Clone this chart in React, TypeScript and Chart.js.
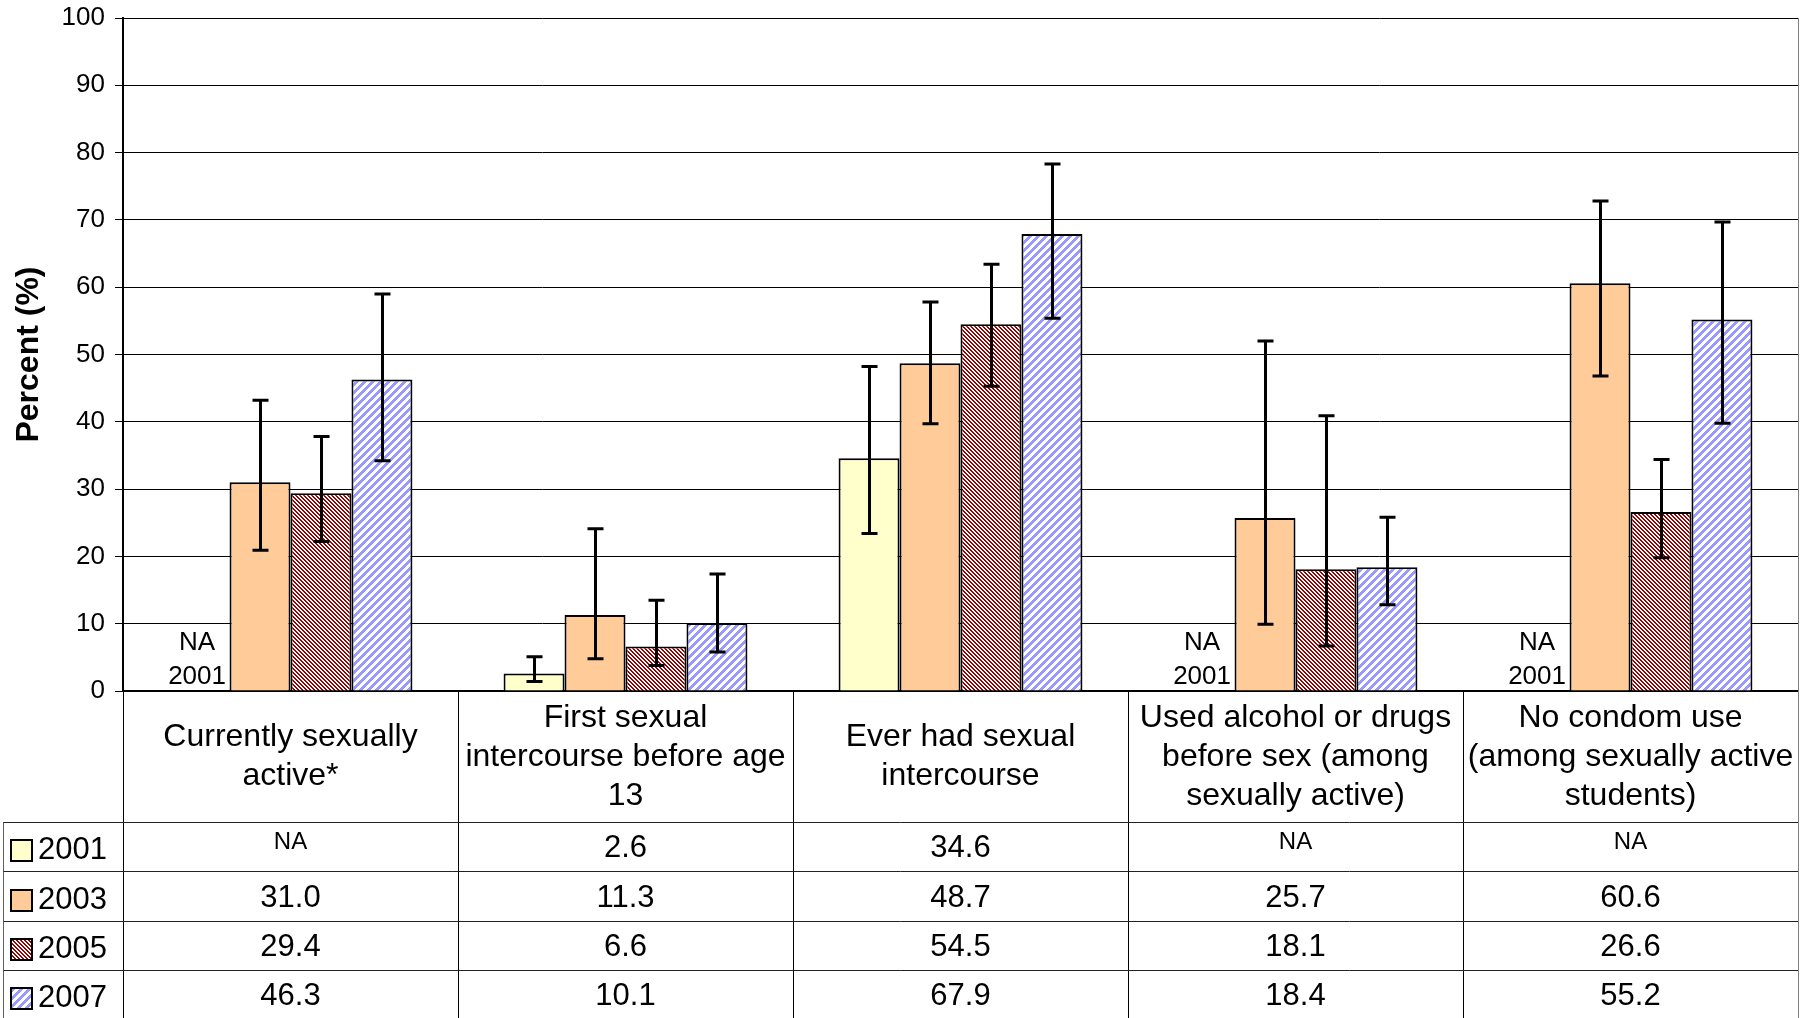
import React, { useEffect, useRef } from 'react';
import { Chart, registerables } from 'chart.js';

Chart.register(...registerables);

// ---------- data ----------
const categoryLines: string[][] = [
  ['Currently sexually', 'active*'],
  ['First sexual', 'intercourse before age', '13'],
  ['Ever had sexual', 'intercourse'],
  ['Used alcohol or drugs', 'before sex (among', 'sexually active)'],
  ['No condom use', '(among sexually active', 'students)'],
];
const years = ['2001', '2003', '2005', '2007'];

const values2001: (number | null)[] = [null, 2.6, 34.6, null, null];
const values2003: (number | null)[] = [31.0, 11.3, 48.7, 25.7, 60.6];
const values2005: (number | null)[] = [29.4, 6.6, 54.5, 18.1, 26.6];
const values2007: (number | null)[] = [46.3, 10.1, 67.9, 18.4, 55.2];

const low2001: (number | null)[] = [null, 1.4, 23.4, null, null];
const high2001: (number | null)[] = [null, 5.1, 48.2, null, null];
const low2003: (number | null)[] = [20.9, 4.8, 39.7, 9.9, 46.8];
const high2003: (number | null)[] = [43.2, 24.1, 57.8, 52.0, 72.8];
const low2005: (number | null)[] = [22.2, 3.8, 45.3, 6.7, 19.8];
const high2005: (number | null)[] = [37.8, 13.5, 63.4, 40.9, 34.4];
const low2007: (number | null)[] = [34.2, 5.8, 55.4, 12.8, 39.8];
const high2007: (number | null)[] = [59.0, 17.4, 78.3, 25.8, 69.7];

const yTicksMin = 0;
const yTicksMax = 100;
const yTicksStep = 10;

const seriesValues = [values2001, values2003, values2005, values2007];
const seriesLow = [low2001, low2003, low2005, low2007];
const seriesHigh = [high2001, high2003, high2005, high2007];

const FONT = "'Liberation Sans', Arial, Helvetica, sans-serif";

function makeStripe(color: string, period: number, thick: number, dir: 'down' | 'up'): CanvasPattern | string {
  const c = document.createElement('canvas');
  c.width = period;
  c.height = period;
  const g = c.getContext('2d');
  if (!g) return color;
  g.fillStyle = '#ffffff';
  g.fillRect(0, 0, period, period);
  g.fillStyle = color;
  for (let y = 0; y < period; y++) {
    for (let x = 0; x < period; x++) {
      const k = dir === 'down' ? (((x - y) % period) + period) % period : (x + y) % period;
      if (k < thick) g.fillRect(x, y, 1, 1);
    }
  }
  return g.createPattern(c, 'repeat') || color;
}

export default function App() {
  const ref = useRef<HTMLCanvasElement>(null);

  useEffect(() => {
    const canvas = ref.current;
    if (!canvas) return;

    const fills: (string | CanvasPattern)[] = [
      '#FFFFCC',
      '#FFCC99',
      makeStripe('#990000', 4, 2, 'down'),
      makeStripe('#9999FF', 8, 4, 'up'),
    ];

    const errorBarPlugin = {
      id: 'errorBars',
      afterDatasetsDraw(chart: any) {
        const ctx = chart.ctx;
        const yScale = chart.scales.y;
        ctx.save();
        ctx.strokeStyle = '#000';
        ctx.lineWidth = 3;
        seriesValues.forEach((vals, d) => {
          const meta = chart.getDatasetMeta(d);
          vals.forEach((v, i) => {
            const lo = seriesLow[d][i];
            const hi = seriesHigh[d][i];
            if (v == null || lo == null || hi == null) return;
            const el = meta.data[i];
            const x = Math.round(el.x) + 0.5;
            const yT = yScale.getPixelForValue(hi);
            const yB = yScale.getPixelForValue(lo);
            ctx.beginPath();
            ctx.moveTo(x, yT);
            ctx.lineTo(x, yB);
            ctx.moveTo(x - 8, yT);
            ctx.lineTo(x + 8, yT);
            ctx.moveTo(x - 8, yB);
            ctx.lineTo(x + 8, yB);
            ctx.stroke();
          });
        });
        // NA labels for missing 2001 bars
        const meta0 = chart.getDatasetMeta(0);
        const base = yScale.getPixelForValue(0);
        ctx.fillStyle = '#000';
        ctx.font = `26px ${FONT}`;
        ctx.textAlign = 'center';
        ctx.textBaseline = 'middle';
        values2001.forEach((v, i) => {
          if (v != null) return;
          const el = meta0.data[i];
          const x = el.x - 2;
          ctx.fillText('NA', x, base - 48);
          ctx.fillText(years[0], x, base - 14);
        });
        ctx.restore();
      },
    };

    const tablePlugin = {
      id: 'dataTable',
      afterDraw(chart: any) {
        const ctx = chart.ctx;
        const area = chart.chartArea;
        const A = area.left;
        const R = area.right;
        const T = area.bottom;
        const H = chart.height;
        const n = categoryLines.length;
        const catW = (R - A) / n;
        const L = 3.5;
        const rowLines = [822, 871, 921, 970];
        const rowBottoms = [871, 921, 970, H];
        ctx.save();

        // right border of plot
        ctx.strokeStyle = '#808080';
        ctx.lineWidth = 1;
        ctx.beginPath();
        ctx.moveTo(Math.round(R) + 0.5, area.top);
        ctx.lineTo(Math.round(R) + 0.5, H);
        ctx.stroke();

        // vertical separators
        ctx.strokeStyle = '#000';
        ctx.lineWidth = 1;
        ctx.beginPath();
        for (let k = 0; k < n; k++) {
          const x = Math.round(A + k * catW) + 0.5;
          ctx.moveTo(x, T);
          ctx.lineTo(x, H);
        }
        ctx.stroke();

        ctx.strokeStyle = '#606060';
        ctx.beginPath();
        ctx.moveTo(L, rowLines[0]);
        ctx.lineTo(L, H);
        ctx.stroke();

        // horizontal lines
        ctx.strokeStyle = '#222';
        ctx.beginPath();
        rowLines.forEach((y) => {
          ctx.moveTo(L, Math.round(y) + 0.5);
          ctx.lineTo(R, Math.round(y) + 0.5);
        });
        ctx.stroke();

        // header labels
        ctx.fillStyle = '#000';
        ctx.textAlign = 'center';
        ctx.textBaseline = 'middle';
        ctx.font = `32px ${FONT}`;
        const headerCenter = 757;
        const lh = 39;
        categoryLines.forEach((lines, i) => {
          const cx = A + (i + 0.5) * catW;
          const y0 = headerCenter - ((lines.length - 1) * lh) / 2;
          lines.forEach((t, j) => ctx.fillText(t, cx, y0 + j * lh));
        });

        // rows
        seriesValues.forEach((vals, d) => {
          const top = rowLines[d];
          const bottom = rowBottoms[d];
          const rc = (top + bottom) / 2;
          // legend swatch
          const sx = 11;
          const sy = Math.round(rc + 4 - 10.5);
          ctx.fillStyle = fills[d] as any;
          ctx.fillRect(sx, sy, 21, 21);
          ctx.strokeStyle = '#000';
          ctx.lineWidth = 2;
          ctx.strokeRect(sx, sy, 21, 21);
          ctx.fillStyle = '#000';
          ctx.textAlign = 'left';
          ctx.font = `31px ${FONT}`;
          ctx.fillText(years[d], 38, rc + 4);
          ctx.textAlign = 'center';
          vals.forEach((v, i) => {
            const cx = A + (i + 0.5) * catW;
            if (v == null) {
              ctx.font = `24px ${FONT}`;
              ctx.fillText('NA', cx, rc - 4);
            } else {
              ctx.font = `31px ${FONT}`;
              ctx.fillText(v.toFixed(1), cx, rc + 2);
            }
          });
        });
        ctx.restore();
      },
    };

    const chart = new Chart(canvas, {
      type: 'bar',
      data: {
        labels: categoryLines.map((l) => l.join(' ')),
        datasets: years.map((yr, d) => ({
          label: yr,
          data: seriesValues[d] as any,
          backgroundColor: fills[d] as any,
          borderColor: '#000',
          borderWidth: 2,
          categoryPercentage: 0.728,
          barPercentage: 1.0,
        })),
      },
      options: {
        responsive: false,
        maintainAspectRatio: false,
        animation: false,
        devicePixelRatio: 1,
        layout: { padding: { left: 0, top: 18, right: 5, bottom: 0 } },
        plugins: {
          legend: { display: false },
          tooltip: { enabled: false },
        },
        scales: {
          x: {
            grid: { display: false },
            ticks: { display: false },
            border: { display: true, color: '#000', width: 2 },
            afterFit: (scale: any) => {
              scale.height = 327;
              scale.paddingLeft = 0;
              scale.paddingRight = 0;
            },
          },
          y: {
            min: yTicksMin,
            max: yTicksMax,
            ticks: {
              stepSize: yTicksStep,
              color: '#000',
              font: { family: FONT, size: 26 },
              padding: 10,
            },
            grid: {
              color: '#000',
              lineWidth: 1,
              drawTicks: true,
              tickLength: 8,
              tickColor: '#000',
            },
            border: { display: true, color: '#000', width: 2 },
            title: {
              display: true,
              text: 'Percent (%)',
              color: '#000',
              font: { family: FONT, size: 32, weight: 'bold' },
              padding: { top: 10, bottom: 0 },
            },
            afterFit: (scale: any) => {
              scale.width = 123;
              scale.paddingTop = 0;
              scale.paddingBottom = 0;
            },
          },
        },
      },
      plugins: [errorBarPlugin, tablePlugin],
    });

    return () => chart.destroy();
  }, []);

  return (
    <div style={{ position: 'absolute', left: 0, top: 0, width: 1803, height: 1018, background: '#fff' }}>
      <canvas ref={ref} width={1803} height={1018} style={{ display: 'block' }} />
    </div>
  );
}
